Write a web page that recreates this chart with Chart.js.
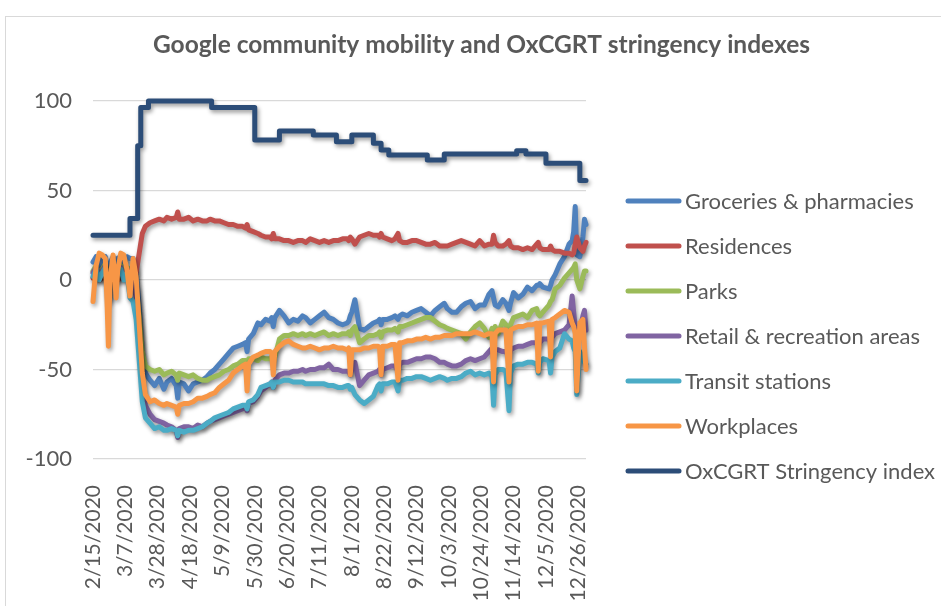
<!DOCTYPE html>
<html>
<head>
<meta charset="utf-8">
<script src="https://cdn.jsdelivr.net/npm/chart.js@4.4.1/dist/chart.umd.min.js"></script>
<style>
  html, body { margin: 0; padding: 0; background: #fff; }
  canvas { display: block; }
</style>
</head>
<body>
<canvas id="mobility_chart" width="941" height="606"></canvas>
<script>
// day 0 = 2/15/2020, day 320 = 12/31/2020
const days = [
  0, 2, 4, 6, 8, 9, 10, 11, 13, 15, 16, 18, 20, 22, 24, 26, 28, 30, 32, 34,
  37, 40, 43, 46, 48, 51, 54, 55, 56, 59, 62, 65, 68, 71, 74, 76, 79, 82, 85, 88, 91, 94, 97,
  99, 100, 101, 104, 107, 109, 112, 115, 116, 117, 118, 121, 124, 127, 130, 133, 136, 138, 141, 144, 147, 150, 153, 156, 159, 162, 165,
  166, 167, 168, 170, 173, 176, 179, 182, 185, 186, 187, 188, 191, 194, 196, 198, 199, 201, 204, 207, 210, 213, 216, 219, 222, 225, 228, 230, 233, 236, 239, 242, 245, 248, 251, 254, 257,
  259, 260, 261, 263, 266, 268, 270, 271, 273, 276, 279, 282, 285, 288, 289, 290, 292, 296, 297, 298, 300, 303, 306, 309, 311, 312, 313, 314, 316, 318, 319, 320
];

const groceries = [
  10, 13, 8, 12, 13, 6, 2, 9, 13, 9, 12, 13, 8, 13, 12, 12, 5, -15, -40, -52,
  -56, -59, -55, -61, -57, -55, -59, -66, -57, -58, -62, -58, -57, -56, -54, -52, -50, -47, -44, -41, -38, -37, -36,
  -35, -40, -33, -30, -24, -25, -22, -23, -21, -26, -21, -17, -20, -24, -22, -23, -20, -21, -24, -22, -20, -18, -21, -22, -24, -25, -24,
  -23, -20, -18, -11, -27, -28, -26, -24, -23, -22, -25, -22, -22, -21, -20, -22, -20, -19, -20, -18, -17, -16, -18, -20, -17, -15, -13, -16, -18, -18, -15, -13, -12, -16, -14, -14, -8,
  -6, -10, -14, -15, -11, -13, -17, -13, -7, -10, -8, -4, -6, -3, -3, -2, -4, -5, -3, 0, 3, 9, 13, 20, 22, 27, 41, 14, 13, 24, 34, 31
];

const residences = [
  1, 2, 0, 1, 2, 3, 4, 2, 0, 1, 0, 1, 2, 1, 2, 3, 4, 15, 26, 30,
  32, 33, 34, 33, 35, 34, 35, 38, 34, 34, 35, 33, 34, 33, 33, 34, 33, 33, 32, 31, 31, 30, 30,
  29, 31, 28, 27, 26, 25, 24, 24, 23, 26, 23, 23, 22, 22, 21, 22, 22, 21, 23, 22, 21, 22, 21, 22, 22, 23, 23,
  22, 24, 23, 20, 24, 25, 26, 25, 25, 24, 26, 24, 23, 22, 23, 26, 22, 21, 21, 22, 22, 21, 20, 20, 21, 19, 19, 19, 20, 21, 22, 21, 20, 19, 22, 19, 20,
  20, 25, 21, 19, 19, 20, 22, 19, 18, 18, 17, 18, 17, 20, 21, 18, 17, 17, 19, 17, 16, 16, 15, 15, 14, 15, 20, 24, 18, 16, 19, 21
];

const parks = [
  5, 8, 2, 6, 9, 0, -8, 5, 8, 3, 6, 8, 4, 7, 6, 2, -5, -20, -40, -48,
  -50, -51, -50, -53, -52, -51, -53, -56, -52, -53, -54, -53, -55, -56, -56, -55, -54, -53, -51, -50, -48, -47, -45,
  -45, -48, -44, -44, -45, -43, -44, -44, -43, -47, -43, -33, -31, -31, -30, -31, -30, -31, -30, -31, -30, -29, -31, -30, -31, -30, -30,
  -29, -31, -28, -26, -35, -33, -31, -31, -30, -29, -32, -29, -28, -28, -27, -29, -26, -26, -25, -24, -23, -22, -21, -21, -23, -25, -26, -27, -28, -29, -30, -33, -29, -26, -24, -27, -32,
  -27, -30, -26, -30, -23, -25, -28, -25, -21, -20, -19, -21, -17, -16, -19, -20, -18, -14, -12, -11, -5, -3, 1, 4, 6, 7, 9, 0, -5, 2, 5, 5
];

const retail = [
  4, 7, 2, 5, 8, 0, -10, 4, 7, 2, 5, 7, 2, 6, 5, 0, -10, -30, -58, -70,
  -75, -78, -79, -80, -81, -82, -84, -88, -83, -82, -82, -83, -81, -82, -80, -79, -78, -77, -76, -75, -74, -73, -72,
  -71, -73, -69, -68, -65, -62, -60, -58, -57, -60, -56, -53, -52, -52, -51, -51, -50, -51, -50, -50, -49, -49, -47, -50, -50, -51, -51,
  -51, -53, -50, -46, -59, -56, -53, -52, -51, -50, -53, -50, -49, -48, -48, -51, -47, -46, -46, -45, -44, -44, -43, -43, -44, -46, -46, -47, -48, -48, -47, -45, -44, -45, -44, -43, -40,
  -38, -42, -39, -39, -40, -40, -43, -39, -38, -37, -37, -36, -35, -35, -37, -35, -33, -33, -35, -32, -30, -29, -28, -25, -9, -18, -26, -32, -28, -20, -17, -28
];

const transit = [
  2, 6, 0, 4, 7, -2, -12, 2, 6, 0, 4, 6, 0, 4, -10, -12, -22, -45, -68, -77,
  -80, -83, -82, -84, -84, -83, -84, -87, -84, -85, -84, -84, -83, -82, -80, -79, -77, -76, -75, -74, -72, -71, -70,
  -70, -72, -68, -67, -64, -60, -59, -58, -57, -60, -57, -57, -56, -56, -57, -57, -57, -58, -58, -58, -58, -58, -59, -59, -60, -60, -59,
  -59, -61, -60, -64, -67, -69, -67, -65, -59, -58, -62, -58, -58, -57, -57, -62, -56, -56, -55, -55, -54, -54, -55, -56, -55, -54, -55, -56, -55, -55, -54, -52, -51, -53, -52, -53, -52,
  -54, -70, -53, -50, -50, -51, -73, -52, -48, -47, -47, -46, -46, -47, -52, -46, -44, -45, -52, -43, -40, -38, -30, -33, -34, -38, -40, -64, -40, -44, -46, -47
];

const workplaces = [
  -12, 8, 15, 14, 12, -10, -37, 0, 14, -10, 5, 15, 14, 6, -9, 12, 2, -25, -52, -64,
  -68, -67, -69, -70, -69, -70, -71, -75, -70, -69, -69, -68, -66, -66, -65, -64, -63, -60, -58, -56, -52, -50, -48,
  -47, -62, -47, -43, -42, -41, -40, -40, -41, -53, -40, -37, -35, -34, -36, -37, -38, -38, -37, -38, -39, -38, -38, -37, -38, -38, -39,
  -38, -53, -39, -39, -39, -38, -38, -37, -37, -38, -53, -37, -37, -36, -36, -56, -35, -35, -34, -34, -33, -33, -32, -33, -32, -32, -31, -31, -31, -30, -30, -30, -30, -29, -30, -31, -30,
  -30, -57, -30, -28, -28, -28, -57, -28, -27, -26, -26, -25, -25, -24, -51, -24, -24, -23, -43, -22, -21, -19, -17, -18, -24, -26, -30, -62, -24, -22, -37, -50
];

// stringency index changes in steps
const stringencyDays = [0, 24, 29, 31, 36, 77, 105, 121, 143, 158, 168, 182, 187, 192, 217, 228, 275, 281, 294, 316, 320];
const stringency = [25, 34.3, 75, 96.3, 100, 96.3, 78.2, 83.3, 81, 77.3, 81, 76.4, 72.6, 69.9, 67, 70.4, 72.2, 70.4, 65.2, 55.6, 55.6];

const tickLabels = ['2/15/2020', '3/7/2020', '3/28/2020', '4/18/2020', '5/9/2020', '5/30/2020', '6/20/2020', '7/11/2020',
  '8/1/2020', '8/22/2020', '9/12/2020', '10/3/2020', '10/24/2020', '11/14/2020', '12/5/2020', '12/26/2020'];

const seriesNames = ['Groceries & pharmacies', 'Residences', 'Parks', 'Retail & recreation areas',
  'Transit stations', 'Workplaces', 'OxCGRT Stringency index'];

const textColor = '#595959';
const fontFamily = 'Lato, "Liberation Sans", sans-serif';
Chart.defaults.font.family = fontFamily;

const toPoints = (xs, ys) => xs.map((x, i) => ({x: x, y: ys[i]}));
const mobility = [groceries, residences, parks, retail, transit, workplaces];
const colors = ['#4f81bd', '#c0504d', '#9bbb59', '#8064a2', '#4bacc6', '#f79646', '#2c4d78'];

const datasets = seriesNames.map((name, i) => ({
  label: name,
  data: i < 6 ? toPoints(days, mobility[i]) : toPoints(stringencyDays, stringency),
  borderColor: colors[i],
  backgroundColor: colors[i],
  borderWidth: 5,
  pointRadius: 0,
  tension: 0,
  borderJoinStyle: 'round',
  borderCapStyle: 'round',
  stepped: i === 6,
  order: 7 - i,   // first series at the bottom, like Excel
  clip: false
}));

// soft drop shadow under each line
const lineShadow = {
  id: 'lineShadow',
  beforeDatasetDraw(chart) {
    const c = chart.ctx;
    c.save();
    c.shadowColor = 'rgba(0, 0, 0, 0.4)';
    c.shadowBlur = 4;
    c.shadowOffsetX = 1.5;
    c.shadowOffsetY = 2.5;
  },
  afterDatasetDraw(chart) {
    chart.ctx.restore();
  }
};

// legend on the right, drawn into the space kept by the hidden right axis
const sideLegend = {
  id: 'sideLegend',
  afterDraw(chart) {
    const c = chart.ctx;
    c.save();
    c.font = '22px ' + fontFamily;
    c.textBaseline = 'middle';
    chart.data.datasets.forEach((ds, i) => {
      const y = 201 + i * 45;
      c.strokeStyle = ds.borderColor;
      c.lineWidth = 5;
      c.lineCap = 'round';
      c.beginPath();
      c.moveTo(628, y);
      c.lineTo(679, y);
      c.stroke();
      c.fillStyle = textColor;
      c.fillText(ds.label, 685, y + 1);
    });
    c.restore();
  }
};

// outer chart border
const frame = {
  id: 'frame',
  beforeDraw(chart) {
    const c = chart.ctx;
    c.save();
    c.strokeStyle = '#d9d9d9';
    c.lineWidth = 1;
    c.strokeRect(5.5, 16.5, 960, 620);
    c.restore();
  }
};

const ctx = document.getElementById('mobility_chart');
const mobilityChart = new Chart(ctx, {
  type: 'line',
  data: { datasets: datasets },
  options: {
    responsive: false,
    animation: false,
    events: [],
    layout: { padding: { left: 22, right: 0, top: 10, bottom: 0 } },
    scales: {
      x: {
        type: 'linear',
        min: 0,
        max: 320,
        grid: { display: false },
        border: { display: false },
        afterBuildTicks: (scale) => {
          scale.ticks = tickLabels.map((t, i) => ({ value: i * 21 }));
        },
        afterFit: (scale) => { scale.height = 147; },
        ticks: {
          autoSkip: false,
          minRotation: 90,
          maxRotation: 90,
          padding: 18,
          color: textColor,
          font: { size: 21 },
          callback: (value, index) => tickLabels[index]
        }
      },
      y: {
        min: -100,
        max: 100,
        border: { display: false },
        grid: { color: '#d9d9d9', lineWidth: 1.3, drawTicks: false },
        afterFit: (scale) => { scale.width = 71; },
        ticks: {
          stepSize: 50,
          padding: 21,
          color: textColor,
          font: { size: 22 }
        }
      },
      legendSpace: {
        position: 'right',
        grid: { display: false },
        border: { display: false },
        ticks: { display: false },
        afterFit: (scale) => { scale.width = 355; }
      }
    },
    plugins: {
      legend: { display: false },
      tooltip: { enabled: false },
      title: {
        display: true,
        text: 'Google community mobility and OxCGRT stringency indexes',
        color: textColor,
        font: { size: 24.5, weight: 'bold' },
        padding: { top: 20, bottom: 41.6 }
      }
    }
  },
  plugins: [frame, lineShadow, sideLegend]
});
</script>
</body>
</html>
